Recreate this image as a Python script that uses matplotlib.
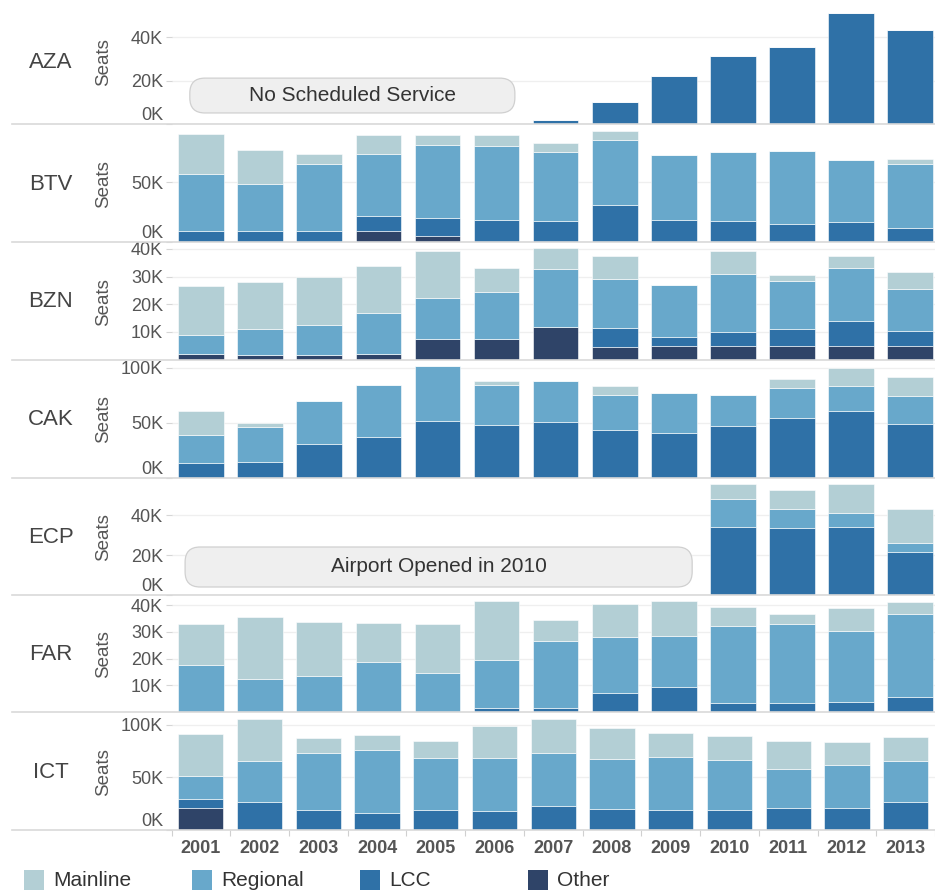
# Seats by carrier type, small airports, 2001-2013
import numpy as np
import matplotlib
matplotlib.use("Agg")
import matplotlib.pyplot as plt
from matplotlib.patches import FancyBboxPatch, Rectangle
from matplotlib.lines import Line2D
from matplotlib.ticker import FuncFormatter

plt.rcParams['font.family'] = ['Liberation Sans', 'DejaVu Sans']

years = ['2001', '2002', '2003', '2004', '2005', '2006', '2007',
         '2008', '2009', '2010', '2011', '2012', '2013']
categories = ['Mainline', 'Regional', 'LCC', 'Other']
colors = ['#b3cfd5', '#68a8cb', '#2f71a7', '#2f4468']

# values in thousands of seats
aza_other = [0] * 13
aza_lcc = [0, 0, 0, 0, 0, 0, 1.9, 10.2, 22.3, 31.3, 35.8, 51.5, 43.6]
aza_regional = [0] * 13
aza_mainline = [0] * 13

btv_other = [0, 0, 0, 9, 5, 0, 0, 0, 0, 0, 0, 0, 0]
btv_lcc = [9, 9, 9, 12.4, 15, 18.6, 17.8, 30.6, 18.6, 17.8, 15.3, 16.9, 11.4]
btv_regional = [47.7, 39, 56, 52.2, 60.8, 61.4, 57.2, 54.1, 53.6, 57.2, 60.5, 51.2, 53.3]
btv_mainline = [33.3, 28.7, 8.6, 15.3, 8.6, 8.9, 7.2, 8.1, 0, 0, 0, 0, 4.2]

bzn_other = [2.1, 1.7, 1.7, 2.1, 7.3, 7.6, 11.8, 4.5, 4.8, 4.8, 4.8, 4.8, 4.8]
bzn_lcc = [0, 0, 0, 0, 0, 0, 0, 6.9, 3.4, 5.1, 6.2, 9.0, 5.6]
bzn_regional = [6.9, 9.3, 10.7, 14.9, 14.8, 17.0, 20.8, 17.7, 18.8, 21.0, 17.4, 19.4, 15.2]
bzn_mainline = [17.7, 17.1, 17.4, 16.9, 17.3, 8.4, 7.8, 8.2, 0, 8.5, 2.1, 4.1, 5.9]

cak_other = [0] * 13
cak_lcc = [13.6, 14.5, 30.9, 37.0, 51.5, 47.6, 50.9, 43.9, 40.6, 47.0, 54.5, 60.3, 49.1]
cak_regional = [25.8, 31.3, 38.5, 47.5, 50.3, 36.3, 37.3, 31.3, 36.1, 28.2, 27.3, 23.3, 25.1]
cak_mainline = [21.2, 3.6, 0, 0, 0, 4.0, 0, 8.4, 0, 0, 8.2, 15.8, 17.3]

ecp_other = [0] * 13
ecp_lcc = [0, 0, 0, 0, 0, 0, 0, 0, 0, 33.8, 33.3, 33.8, 21.3]
ecp_regional = [0, 0, 0, 0, 0, 0, 0, 0, 0, 14.2, 9.9, 7.0, 4.7]
ecp_mainline = [0, 0, 0, 0, 0, 0, 0, 0, 0, 7.5, 9.1, 14.7, 17.2]

far_other = [0] * 13
far_lcc = [0, 0, 0, 0, 0, 1.4, 1.4, 7.1, 9.5, 3.4, 3.4, 3.9, 5.6]
far_regional = [17.4, 12.4, 13.5, 18.6, 14.6, 17.9, 25.0, 20.8, 19.1, 28.9, 29.6, 26.5, 30.9]
far_mainline = [15.5, 23.0, 20.0, 14.7, 18.3, 22.1, 7.9, 12.5, 12.8, 7.0, 3.5, 8.6, 4.5]

ict_other = [20.9, 0, 0, 0, 0, 0, 0, 0, 0, 0, 0, 0, 0]
ict_lcc = [8.2, 26.3, 19.0, 16.5, 19.0, 18.4, 22.8, 20.3, 19.0, 19.0, 20.9, 20.9, 26.3]
ict_regional = [22.5, 38.9, 54.1, 59.4, 49.0, 49.6, 50.3, 46.8, 50.0, 47.5, 37.3, 40.8, 38.9]
ict_mainline = [39.5, 40.5, 14.6, 14.6, 16.2, 30.4, 32.6, 29.7, 23.1, 23.1, 26.0, 21.5, 23.4]

airports = ['AZA', 'BTV', 'BZN', 'CAK', 'ECP', 'FAR', 'ICT']
series = {
    'AZA': (aza_other, aza_lcc, aza_regional, aza_mainline),
    'BTV': (btv_other, btv_lcc, btv_regional, btv_mainline),
    'BZN': (bzn_other, bzn_lcc, bzn_regional, bzn_mainline),
    'CAK': (cak_other, cak_lcc, cak_regional, cak_mainline),
    'ECP': (ecp_other, ecp_lcc, ecp_regional, ecp_mainline),
    'FAR': (far_other, far_lcc, far_regional, far_mainline),
    'ICT': (ict_other, ict_lcc, ict_regional, ict_mainline),
}
yticks = {
    'AZA': [0, 20, 40], 'BTV': [0, 50], 'BZN': [10, 20, 30, 40],
    'CAK': [0, 50, 100], 'ECP': [0, 20, 40], 'FAR': [10, 20, 30, 40],
    'ICT': [0, 50, 100],
}
ymax = {'AZA': 57.3, 'BTV': 96.7, 'BZN': 41.8, 'CAK': 106,
        'ECP': 57.5, 'FAR': 43, 'ICT': 110}

# panel top / baseline in pixels
W, H = 935, 892
panel_px = [(0, 124), (126, 242), (244, 359.5), (361, 478),
            (480, 595), (597, 712), (714, 830)]
left_px = 171.5
slot_px = 59.1

fig = plt.figure(figsize=(W / 100, H / 100), dpi=100)
x = np.arange(len(years))
axes = {}

for name, (top, base) in zip(airports, panel_px):
    ax = fig.add_axes([left_px / W, 1 - base / H, (W - left_px) / W, (base - top) / H])
    axes[name] = ax
    other, lcc, regional, mainline = series[name]
    bottom = np.zeros(len(years))
    # stack from bottom: Other, LCC, Regional, Mainline
    for vals, col in zip([other, lcc, regional, mainline],
                         [colors[3], colors[2], colors[1], colors[0]]):
        vals = np.array(vals, dtype=float)
        ax.bar(x, vals, bottom=bottom, width=0.77, color=col,
               edgecolor='white', linewidth=0.4, zorder=3)
        bottom += vals

    ax.set_xlim(-0.5, -0.5 + (W - left_px) / slot_px)
    ax.set_ylim(0, ymax[name])
    ax.set_yticks(yticks[name])
    ax.yaxis.set_major_formatter(FuncFormatter(lambda v, p: f"{v:g}K"))
    ax.tick_params(axis='y', length=4, width=0.8, color='#d6d6d6',
                   labelsize=13, labelcolor='#555555', pad=2)
    for lab in ax.get_yticklabels():
        if lab.get_text() == '0K':
            lab.set_va('bottom')
    ax.grid(axis='y', color='#efefef', linewidth=0.9, zorder=0)
    for s in ['top', 'right', 'left', 'bottom']:
        ax.spines[s].set_visible(False)
    ax.set_xticks([])

    # row separator running across the label area too
    fig.add_artist(Line2D([12 / W, 1], [1 - base / H, 1 - base / H],
                          color='#d9d9d9', linewidth=1.2))

    mid = 1 - (top + base) / 2 / H
    fig.text(51 / W, mid, name, ha='center', va='center',
             fontsize=16, color='#444444')
    fig.text(103.5 / W, mid, 'Seats', ha='center', va='center',
             rotation=90, fontsize=13.5, color='#555555')


def note(ax, x0, x1, y0, y1, text):
    p0 = ax.transData.transform((0, 0))
    p1 = ax.transData.transform((1, 1))
    ppx_x = p1[0] - p0[0]
    ppx_y = p1[1] - p0[1]
    r = 15 / ppx_x
    box = FancyBboxPatch((x0, y0), x1 - x0, y1 - y0,
                         boxstyle=f"round,pad=0,rounding_size={r}",
                         mutation_aspect=ppx_x / ppx_y,
                         facecolor='#efefef', edgecolor='#d0d0d0',
                         linewidth=0.9, zorder=4, clip_on=False)
    ax.add_patch(box)
    ax.text((x0 + x1) / 2, (y0 + y1) / 2, text, ha='center', va='center',
            fontsize=15, color='#333333', zorder=5)


note(axes['AZA'], -0.19, 5.31, 5.1, 21.2, 'No Scheduled Service')
note(axes['ECP'], -0.27, 8.31, 4.0, 24.0, 'Airport Opened in 2010')

# bottom year axis
ax = axes['ICT']
ax.set_xticks(x)
ax.set_xticklabels(years, fontsize=13, fontweight='bold', color='#555555')
ax.set_xticks(np.arange(-0.5, 13, 1), minor=True)
ax.tick_params(axis='x', which='major', length=0, pad=7)
ax.tick_params(axis='x', which='minor', length=4, width=0.8, color='#d0d0d0')

# legend
for i, (cat, col) in enumerate(zip(categories, colors)):
    x0 = 24 + i * 168
    fig.patches.append(Rectangle((x0 / W, 1 - 890 / H), 20 / W, 20 / H,
                                 transform=fig.transFigure, facecolor=col,
                                 edgecolor='none'))
    fig.text((x0 + 29) / W, 1 - 880 / H, cat, ha='left', va='center',
             fontsize=15, color='#333333')

fig.savefig('out.png', dpi=100)
